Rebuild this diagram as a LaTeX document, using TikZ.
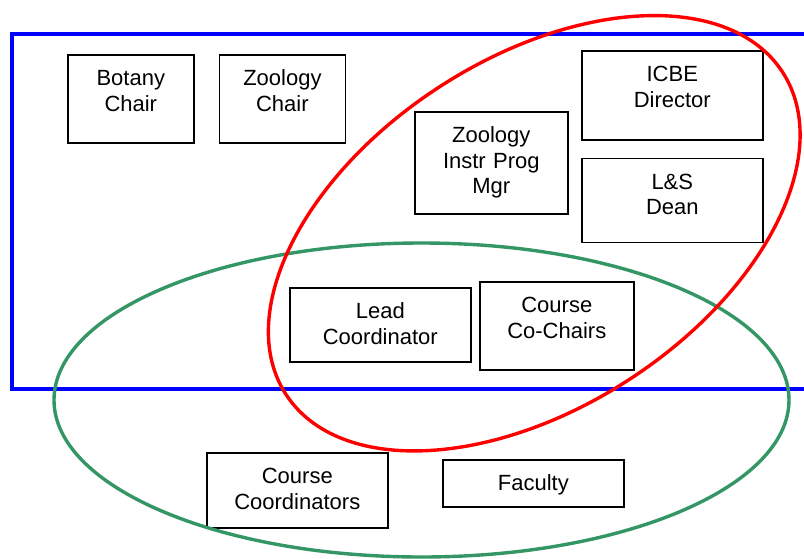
\documentclass[tikz,border=0pt]{standalone}
\usepackage{fontspec}
\setmainfont{Liberation Sans}
\usetikzlibrary{positioning}

\definecolor{setgreen}{RGB}{51,150,100}

\begin{document}
\begin{tikzpicture}[
  x=1pt, y=-1pt,
  font=\fontsize{22}{25.5}\selectfont,
  node distance=17pt,
  box/.style={draw, line width=1.6pt, inner sep=0pt, align=center, anchor=north west, text height=31pt},
  group/.style={line width=3.4pt},
]
  \useasboundingbox (0,0) rectangle (804,558);
  \clip (0,0) rectangle (804,558);
  \draw[group, blue] (12,34) rectangle (830,389);

  \node[box, text width=126pt, text depth=57pt] (botany) at (67,54) {Botany\\Chair};
  \node[box, text width=126pt, text depth=57pt, right=24pt of botany] (zoochair) {Zoology\\Chair};
  \node[box, text width=153pt, text depth=71pt] (instr) at (414,111) {Zoology\\Instr Prog\\Mgr};
  \node[box, text width=181pt, text depth=58pt] (icbe) at (581,50) {ICBE\\Director};
  \node[box, text width=181pt, text depth=53pt, below=of icbe] (dean) {L\&S\\Dean};
  \node[box, text width=181pt, text depth=43pt] (lead) at (289,287) {Lead\\Coordinator};
  \node[box, text width=154pt, text depth=57pt] (cochairs) at (479,281) {Course\\Co-Chairs};
  \node[box, text width=181pt, text depth=44pt] (coords) at (206,452) {Course\\Coordinators};
  \node[box, text width=181pt, text depth=16pt] (faculty) at (442,459) {Faculty};

  \draw[group, setgreen] (421.5,400) ellipse [x radius=367.5, y radius=157];
  \draw[group, red, rotate around={33:(534.25,233.25)}] (534.25,233.25) ellipse [x radius=296, y radius=174.4];
\end{tikzpicture}
\end{document}
